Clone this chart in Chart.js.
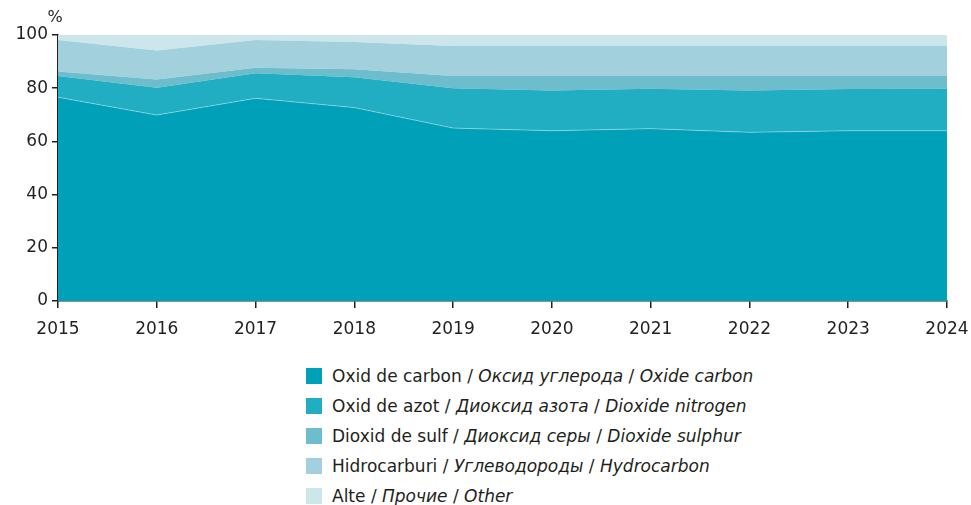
<!DOCTYPE html>
<html>
<head>
<meta charset="utf-8">
<script src="https://cdn.jsdelivr.net/npm/chart.js@4"></script>
<style>
  html, body { margin: 0; padding: 0; background: #fff; }
  #wrap { position: relative; width: 971px; height: 505px; }
  #c { position: absolute; left: 0; top: 0; }
  #legend { position: absolute; left: 306px; top: 361px; font-family: "DejaVu Sans", sans-serif; font-size: 17px; color: #231f20; }
  .item { display: flex; align-items: center; height: 30px; white-space: nowrap; }
  .sw { width: 16px; height: 16px; margin-right: 10px; flex: none; }
  .it { font-style: italic; }
</style>
</head>
<body>
<div id="wrap">
  <canvas id="c" width="971" height="345"></canvas>
  <div id="legend"></div>
</div>
<script>
const years = ["2015","2016","2017","2018","2019","2020","2021","2022","2023","2024"];
const oxidCarbon   = [76.6, 69.9, 76.2, 72.7, 65.0, 64.0, 64.8, 63.4, 64.0, 64.0];
const oxidAzot     = [8.0, 10.3, 9.4, 11.4, 15.0, 15.1, 15.0, 15.7, 15.7, 15.8];
const dioxidSulf   = [1.7, 3.1, 2.1, 3.0, 4.6, 5.5, 4.8, 5.5, 4.9, 4.8];
const hidrocarburi = [11.8, 10.9, 10.4, 10.3, 11.3, 11.3, 11.3, 11.3, 11.3, 11.3];
const alte         = [1.9, 5.8, 1.9, 2.6, 4.1, 4.1, 4.1, 4.1, 4.1, 4.1];
const yTicks = [0, 20, 40, 60, 80, 100];

const series = [
  { ro: "Oxid de carbon", ru: "Оксид углерода", en: "Oxide carbon", data: oxidCarbon, color: "#00a0b8" },
  { ro: "Oxid de azot", ru: "Диоксид азота", en: "Dioxide nitrogen", data: oxidAzot, color: "#22aec2" },
  { ro: "Dioxid de sulf", ru: "Диоксид серы", en: "Dioxide sulphur", data: dioxidSulf, color: "#6ebdcc" },
  { ro: "Hidrocarburi", ru: "Углеводороды", en: "Hydrocarbon", data: hidrocarburi, color: "#a2d1dd" },
  { ro: "Alte", ru: "Прочие", en: "Other", data: alte, color: "#cde6eb" }
];

const percentLabel = {
  id: "percentLabel",
  afterDraw(chart) {
    const ctx = chart.ctx;
    const a = chart.chartArea;
    ctx.save();
    ctx.fillStyle = "#231f20";
    ctx.font = "16px 'DejaVu Sans', sans-serif";
    ctx.textAlign = "center";
    ctx.textBaseline = "middle";
    ctx.fillText("%", a.left - 3, a.top - 17);
    ctx.restore();
  }
};

const tickFont = { family: "'DejaVu Sans', sans-serif", size: 17 };

new Chart(document.getElementById("c"), {
  type: "line",
  data: {
    labels: years,
    datasets: series.map((s, i) => ({
      label: s.ro,
      data: s.data,
      backgroundColor: s.color,
      borderColor: i === 0 ? "rgba(255,255,255,0.35)" : s.color,
      borderWidth: i === 0 ? 1 : 0,
      fill: i === 0 ? "origin" : "-1",
      pointRadius: 0,
      tension: 0
    }))
  },
  options: {
    responsive: false,
    animation: false,
    layout: { padding: { top: 35, right: 24, left: 0, bottom: 0 } },
    plugins: { legend: { display: false }, tooltip: { enabled: false } },
    scales: {
      x: {
        offset: false,
        afterFit(axis) { axis.height = 44; axis.paddingLeft = 0; axis.paddingRight = 0; },
        grid: { display: true, drawOnChartArea: false, drawTicks: true, tickLength: 7, color: "#231f20", lineWidth: 1.5 },
        border: { display: true, color: "#231f20", width: 1.5 },
        ticks: { color: "#231f20", font: tickFont, padding: 11, maxRotation: 0, autoSkip: false }
      },
      y: {
        stacked: true,
        min: 0,
        max: 100,
        afterBuildTicks(axis) { axis.ticks = yTicks.map(v => ({ value: v })); },
        afterFit(axis) { axis.width = 58; axis.paddingTop = 0; axis.paddingBottom = 0; },
        grid: { display: true, drawOnChartArea: false, drawTicks: true, tickLength: 6, color: "#231f20", lineWidth: 1.5 },
        border: { display: true, color: "#231f20", width: 1.5 },
        ticks: { color: "#231f20", font: tickFont, padding: 4 }
      }
    }
  },
  plugins: [percentLabel]
});

const leg = document.getElementById("legend");
series.forEach(s => {
  const d = document.createElement("div");
  d.className = "item";
  d.innerHTML = '<span class="sw" style="background:' + s.color + '"></span><span>' + s.ro +
    ' / <span class="it">' + s.ru + '</span> / <span class="it">' + s.en + '</span></span>';
  leg.appendChild(d);
});
</script>
</body>
</html>
